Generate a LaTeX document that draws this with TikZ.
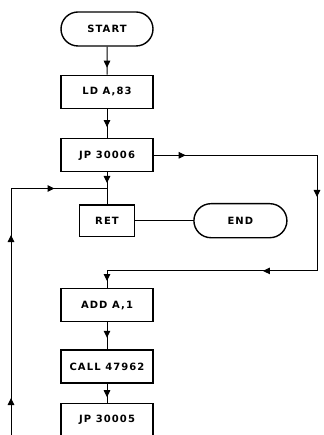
\documentclass[tikz,border=0pt]{standalone}
\usepackage{fontspec}
\setmainfont{DejaVu Sans}
\newfontfamily\boxfont[LetterSpace=11]{DejaVu Sans}
\usetikzlibrary{arrows.meta,positioning,shapes.misc,decorations.markings}

\begin{document}
\begin{tikzpicture}[
  x=1pt,y=1pt,
  line width=1pt,
  box/.style={rectangle,draw,line width=1.4pt,minimum width=92pt,minimum height=33pt,inner sep=0pt,
    font=\boxfont\bfseries\fontsize{10}{12}\selectfont},
  term/.style={box,rounded rectangle,minimum height=34pt},
  flow/.style={postaction={decorate,decoration={markings,
    mark=at position #1 with {\arrow{Triangle[length=7pt,width=6.5pt]}}}}}
]
\useasboundingbox (0,0) rectangle (323,-435);

\node[term] (start) at (107,-29) {START};
\node[box,below=28pt of start] (ld) {LD A,83};
\node[box,below=29pt of ld] (jpa) {JP 30006};
\coordinate[below=16pt of jpa] (join);
\node[box,minimum width=55pt,minimum height=31pt,below=32pt of jpa] (ret) {RET};
\node[term,minimum width=93pt,right=58pt of ret] (end) {END};
\node[box,below=51pt of ret] (add) {ADD A,1};
\node[box,below=27pt of add] (call) {CALL 47962};
\node[box,below=19pt of call] (jpb) {JP 30005};

% corners of the two jumps
\coordinate[above=17pt of add] (skip);
\coordinate (edge) at (317,0);
\coordinate (rtop) at (jpa -| edge);
\coordinate (rbot) at (skip -| edge);
\coordinate (lx) at (11,-435);
\coordinate (ltop) at (join -| lx);
\coordinate (out) at (jpb |- lx);

\draw[flow=21pt] (start) -- (ld);
\draw[flow=18pt] (ld) -- (jpa);
\draw[flow=10.5pt] (jpa) -- (join);
\draw (join) -- (ret);
\draw (ret) -- (end);
\draw[flow=32pt,flow=205pt,flow=333pt,flow=499pt] (jpa) -- (rtop) -- (rbot) -- (skip) -- (add);
\draw[flow=15.5pt] (add) -- (call);
\draw[flow=13.5pt] (call) -- (jpb);
\draw (jpb) -- (out);
\draw[flow=37pt,flow=200pt,flow=290pt] (lx) -- (ltop) -- (join);
\end{tikzpicture}
\end{document}
